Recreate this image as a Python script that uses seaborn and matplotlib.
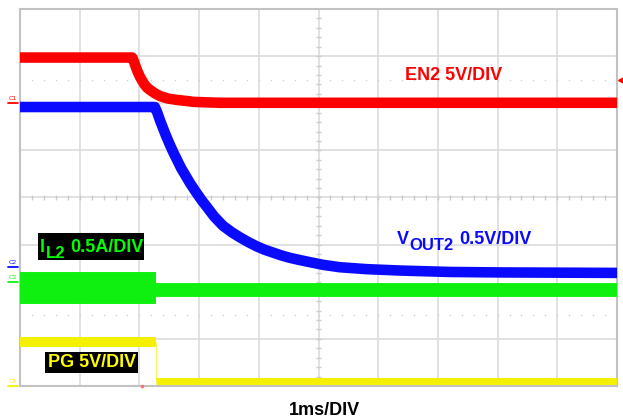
import numpy as np
import matplotlib
matplotlib.use("Agg")
import matplotlib.pyplot as plt
import matplotlib.transforms as mtransforms
from matplotlib.patches import Rectangle
import seaborn as sns

# Time axis in ms (1 ms/div, 10 div); vertical axis in screen divisions (8 div)
en2_t = [0, 1.88, 1.91, 1.94, 1.97, 2.01, 2.05, 2.09, 2.13, 2.18, 2.26,
         2.35, 2.48, 2.63, 2.78, 2.90, 3.10, 3.35, 10]
en2_v = [6.97, 6.97, 6.88, 6.77, 6.67, 6.56, 6.47, 6.39, 6.33, 6.28, 6.21,
         6.15, 6.10, 6.07, 6.05, 6.03, 6.02, 6.01, 6.01]

vout_t = [0, 2.26, 2.30, 2.35, 2.43, 2.50, 2.56, 2.63, 2.70, 2.78, 2.85,
          2.95, 3.05, 3.13, 3.25, 3.40, 3.55, 3.69, 3.83, 3.97, 4.10,
          4.24, 4.38, 4.52, 4.66, 4.81, 5.08, 5.36, 5.80, 6.37, 7.20,
          8.04, 10]
vout_v = [5.92, 5.92, 5.80, 5.62, 5.36, 5.15, 4.98, 4.80, 4.62, 4.45, 4.30,
          4.11, 3.93, 3.80, 3.60, 3.40, 3.26, 3.15, 3.05, 2.96, 2.89,
          2.83, 2.77, 2.72, 2.68, 2.64, 2.57, 2.52, 2.48, 2.45, 2.42,
          2.41, 2.40]

il_on_t = [0, 2.28]
il_on_v = [2.08, 2.08]
il_off_t = [2.28, 10]
il_off_v = [2.04, 2.04]

pg_high_t = [0, 2.28]
pg_high_v = [0.93, 0.93]
pg_edge_t = [2.28, 2.28]
pg_edge_v = [0.93, 0.10]
pg_low_t = [2.28, 10]
pg_low_v = [0.10, 0.10]

channel_names = ["C1", "C2", "C3", "C4"]
channel_levels = [6.0, 2.53, 2.21, 0.0]
trigger_level = 6.49
trigger_time = 2.04

RED = "#ff0000"
BLUE = "#0a0aff"
GREEN = "#10f010"
YELLOW = "#f5f000"
channel_colors = [RED, BLUE, GREEN, YELLOW]

sns.set_theme(style="white")
plt.rcParams["font.family"] = ["Liberation Sans", "DejaVu Sans"]

fig = plt.figure(figsize=(6.23, 4.19), dpi=100)
fig.patch.set_facecolor("white")
ax = fig.add_axes([20 / 623, 33 / 419, 597 / 623, 377 / 419])
ax.set_facecolor("white")

# graticule
ax.set_xlim(0, 10)
ax.set_ylim(0, 8)
ax.set_xticks(np.arange(0, 11))
ax.set_yticks(np.arange(0, 9))
ax.grid(True, color="#dcdcdc", linewidth=1.2, zorder=0)
ax.tick_params(length=0, labelbottom=False, labelleft=False)
for sp in ax.spines.values():
    sp.set_color("#c2c2c2")
    sp.set_linewidth(1.5)
minor_x = np.arange(0.2, 10, 0.2)
minor_y = np.arange(0.2, 8, 0.2)
ax.vlines(minor_x, 4 - 0.05, 4 + 0.05, color="#cccccc", lw=1.0, zorder=1)
ax.hlines(minor_y, 5 - 0.04, 5 + 0.04, color="#cccccc", lw=1.0, zorder=1)
for lvl in (6.5, 1.5):
    ax.plot(minor_x, np.full_like(minor_x, lvl), ls="none", marker="s",
            ms=1.0, mew=0, color="#cfcfcf", zorder=1)


def trace(ts, vs, color, lw, z=3, **kw):
    sns.lineplot(x=ts, y=vs, color=color, linewidth=lw, estimator=None,
                 sort=False, ax=ax, zorder=z, solid_capstyle="butt",
                 solid_joinstyle="round", **kw)


trace(vout_t, vout_v, BLUE, 7.6)
trace(il_on_t, il_on_v, GREEN, 23)
trace(il_off_t, il_off_v, GREEN, 10)
trace(pg_high_t, pg_high_v, YELLOW, 7.2)
trace(pg_edge_t, pg_edge_v, YELLOW, 0.8, alpha=0.6)
trace(pg_low_t, pg_low_v, YELLOW, 5)
trace(en2_t, en2_v, RED, 7.6, z=4)
ax.set_xlabel("")
ax.set_ylabel("")

# channel ground markers, trigger markers
blend = mtransforms.blended_transform_factory(ax.transAxes, ax.transData)
for name, lvl, col in zip(channel_names, channel_levels, channel_colors):
    ax.plot([-0.020, -0.004], [lvl, lvl], color=col, lw=1.3,
            transform=blend, clip_on=False)
    ax.text(-0.012, lvl + 0.04, name, color=col, fontsize=4.5,
            ha="center", va="bottom", transform=blend, clip_on=False)
ax.plot([1.007], [trigger_level], marker="<", ms=4, color=RED,
        transform=blend, clip_on=False, ls="none")
ax.plot([trigger_time], [0.0], marker="s", ms=2, color="#ff7070",
        clip_on=False, ls="none", zorder=6)

bold = dict(fontsize=13, fontweight="bold")
sub = dict(fontsize=12, fontweight="bold")

# EN2 label
ax.text(7.26, 6.49, "EN2 5V/DIV", color=RED, ha="center", va="baseline",
        zorder=6, **bold)

# VOUT2 label
v1 = ax.text(6.315, 3.01, "V", color=BLUE, ha="left", va="baseline",
             zorder=6, **bold)
v2 = ax.annotate("OUT2", xy=(1, 0), xycoords=v1, xytext=(0.3, -3.6),
                 textcoords="offset points", color=BLUE, ha="left",
                 va="bottom", zorder=6, **sub)
ax.annotate("0.5V/DIV", xy=(1, 0), xycoords=v2, xytext=(4.2, 3.6),
            textcoords="offset points", color=BLUE, ha="left", va="bottom",
            zorder=6, **bold)

# IL2 label on black
ax.add_patch(Rectangle((0.30, 2.67), 1.78, 0.58, facecolor="black",
                       edgecolor="none", zorder=5))
i1 = ax.text(0.335, 2.84, "I", color="#00ff00", ha="left", va="baseline",
             zorder=6, **bold)
i2 = ax.annotate("L2", xy=(1, 0), xycoords=i1, xytext=(0.3, -3.6),
                 textcoords="offset points", color="#00ff00", ha="left",
                 va="bottom", zorder=6, **sub)
ax.annotate("0.5A/DIV", xy=(1, 0), xycoords=i2, xytext=(4.2, 3.6),
            textcoords="offset points", color="#00ff00", ha="left",
            va="bottom", zorder=6, **bold)

# PG label on black
ax.add_patch(Rectangle((0.42, 0.28), 1.56, 0.44, facecolor="black",
                       edgecolor="none", zorder=5))
ax.text(1.20, 0.50, "PG 5V/DIV", color="#ffff00", ha="center", va="center",
        zorder=6, **bold)

fig.text(324 / 623, 1 - 415 / 419, "1ms/DIV", ha="center", va="baseline",
         color="black", **bold)

fig.savefig("out.png", dpi=100, facecolor="white")
